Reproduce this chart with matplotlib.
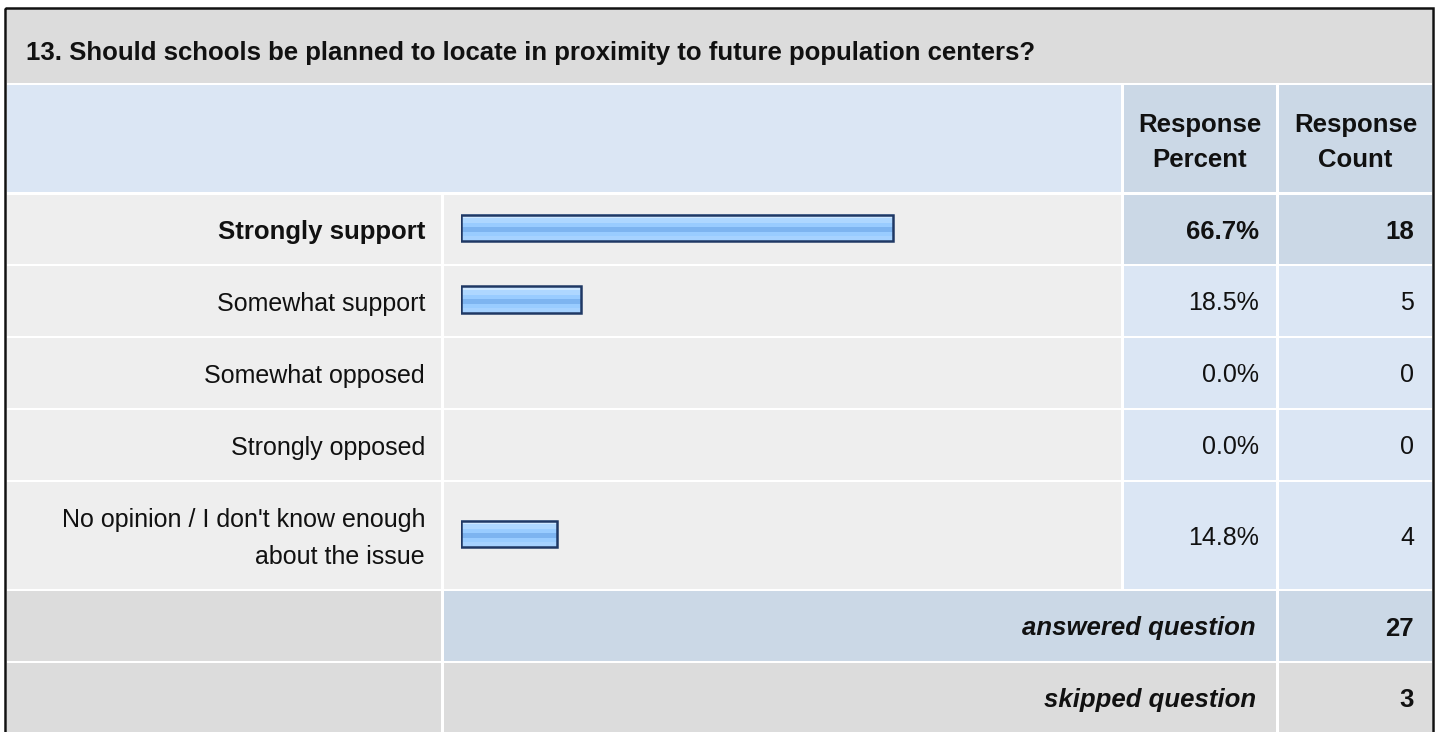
import matplotlib
matplotlib.use("Agg")
from matplotlib import pyplot as plt
from matplotlib.patches import Rectangle
from matplotlib.colors import to_rgb
import numpy as np

plt.rcParams['font.family'] = ['Liberation Sans', 'DejaVu Sans']

# Survey data
question = "13. Should schools be planned to locate in proximity to future population centers?"
answers = ["Strongly support", "Somewhat support", "Somewhat opposed",
           "Strongly opposed", "No opinion / I don't know enough\nabout the issue"]
percents = [66.7, 18.5, 0.0, 0.0, 14.8]
counts = [18, 5, 0, 0, 4]
answered = 27
skipped = 3

# Layout (pixel coordinates, y grows down)
W, H = 1440, 732
row_tops = [195, 266, 338, 410, 482]
row_bots = [264, 336, 408, 480, 589]
col_label = (7, 441)
col_bar = (444, 1121)
col_pct = (1124, 1276)
col_cnt = (1279, 1432)

c_title = "#DCDCDC"
c_head = "#DBE6F4"
c_dark = "#CBD8E6"
c_row = "#EEEEEE"
fs = 18
fs_b = 18.5  # bold text renders a bit wider in the original

fig = plt.figure(figsize=(W / 100, H / 100), dpi=100)
ax = fig.add_axes([0, 0, 1, 1])
ax.set_xlim(0, W)
ax.set_ylim(H, 0)
ax.axis("off")


def cell(cols, y0, y1, color):
    ax.add_patch(Rectangle((cols[0], y0), cols[1] - cols[0], y1 - y0,
                           facecolor=color, edgecolor="none", zorder=1))


# Title row
cell((7, 1432), 9, 83, c_title)
ax.text(26, 60, question, fontsize=fs_b, fontweight="bold", va="baseline", ha="left", color="#111111")

# Header row
cell((7, col_bar[1]), 85, 192, c_head)
cell(col_pct, 85, 192, c_dark)
cell(col_cnt, 85, 192, c_dark)
for cols, second in [(col_pct, "Percent"), (col_cnt, "Count")]:
    xc = (cols[0] + cols[1]) / 2
    ax.text(xc, 132, "Response", fontsize=fs_b, fontweight="bold", ha="center", va="baseline", color="#111111")
    ax.text(xc, 167, second, fontsize=fs_b, fontweight="bold", ha="center", va="baseline", color="#111111")

# Answer rows
best = int(np.argmax(counts))
for i, (label, p, n) in enumerate(zip(answers, percents, counts)):
    y0, y1 = row_tops[i], row_bots[i]
    yc = (y0 + y1) / 2
    hi = i == best
    cell(col_label, y0, y1, c_row)
    cell(col_bar, y0, y1, c_row)
    cell(col_pct, y0, y1, c_dark if hi else c_head)
    cell(col_cnt, y0, y1, c_dark if hi else c_head)
    weight = "bold" if hi else "normal"
    size = fs_b if hi else fs
    lines = label.split("\n")
    first = yc + 9.5 - (len(lines) - 1) * 37 / 2
    for k, line in enumerate(lines):
        ax.text(425, first + k * 37, line, fontsize=size, fontweight=weight,
                ha="right", va="baseline", color="#111111")
    ax.text(col_pct[1] - 17, yc + 9.5, f"{p:.1f}%", fontsize=size, fontweight=weight,
            ha="right", va="baseline", color="#111111")
    ax.text(col_cnt[1] - 18, yc + 9.5, str(n), fontsize=size, fontweight=weight,
            ha="right", va="baseline", color="#111111")

# Summary rows
cell(col_label, 591, 661, c_title)
cell((col_bar[0], col_pct[1]), 591, 661, c_dark)
cell(col_cnt, 591, 661, c_dark)
cell(col_label, 663, H + 5, c_title)
cell((col_bar[0], col_pct[1]), 663, H + 5, c_title)
cell(col_cnt, 663, H + 5, c_title)
for yc, txt, n in [(626, "answered question", answered), (697.5, "skipped question", skipped)]:
    ax.text(col_pct[1] - 20, yc + 9.5, txt, fontsize=fs_b, fontweight="bold", style="italic",
            ha="right", va="baseline", color="#111111")
    ax.text(col_cnt[1] - 18, yc + 9.5, str(n), fontsize=fs_b, fontweight="bold",
            ha="right", va="baseline", color="#111111")

# Outer frame
ax.add_patch(Rectangle((5.4, 7.9), 1433.4 - 5.4, H + 10, facecolor="none",
                       edgecolor="#111111", linewidth=1.8, zorder=5))

# Bar column: its own axes, 0-100 percent across
bx = fig.add_axes([461 / W, 0, 648 / W, 1])
bx.patch.set_alpha(0)
bar_y = [(t + b) / 2 - 1.5 for t, b in zip(row_tops, row_bots)]
bar_h = 26.5
bars = bx.barh(bar_y, percents, height=bar_h, facecolor="none",
               edgecolor="#1F3864", linewidth=1.8, zorder=3)

bands = ["#CDE7FF", "#CDE7FF", "#AED7FF", "#AED7FF", "#99CCFF", "#99CCFF",
         "#7DB4F0", "#7DB4F0", "#99CCFF", "#99CCFF", "#A6D2FF", "#A6D2FF"]
grad = np.array([[to_rgb(c)] for c in bands])
for bar, p, y in zip(bars, percents, bar_y):
    if p <= 0:
        bar.set_visible(False)
        continue
    bx.imshow(grad, extent=(0, p, y + bar_h / 2, y - bar_h / 2), aspect="auto",
              interpolation="nearest", zorder=2, clip_path=bar)

bx.set_xlim(0, 100)
bx.set_ylim(H, 0)
bx.axis("off")

plt.savefig("out.png", dpi=100)
